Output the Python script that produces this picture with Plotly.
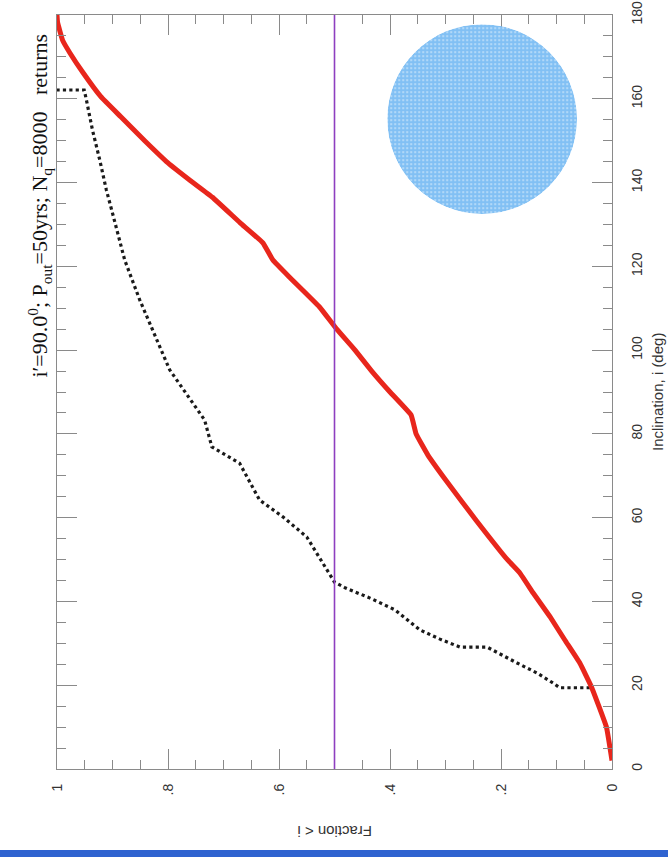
import plotly.graph_objects as go

# ---- data ----
red_incl = [2, 10, 19.6, 25.3, 30.8, 36.4, 42, 46.8, 49.9, 59.4, 68.5, 75, 80, 84.5, 90,
            95, 100, 105, 110.3, 117.4, 121.5, 125.6, 130.4, 136.5, 140.5, 144.7, 150,
            155.7, 160.5, 166.2, 171, 174, 178.3, 180]
red_frac = [0, 0.01, 0.037, 0.058, 0.085, 0.112, 0.142, 0.166, 0.188, 0.245, 0.297, 0.332, 0.353,
            0.362, 0.4, 0.433, 0.463, 0.496, 0.527, 0.581, 0.611, 0.629, 0.67, 0.72, 0.76, 0.80,
            0.842, 0.885, 0.921, 0.953, 0.977, 0.99, 0.999, 1.0]

dot_incl = [19.4, 19.4, 20.5, 22.9, 25.3, 27.9, 29.1, 29.1, 31, 33.2, 38, 40.8, 43.2, 44.6,
            50.6, 55.4, 60.2, 64.2, 73, 76.9, 83.3, 95.3, 112, 121.5, 132.7, 138.2, 145.4,
            152.5, 159.7, 162.1, 162.1]
dot_frac = [0.04, 0.094, 0.106, 0.135, 0.171, 0.207, 0.225, 0.274, 0.31, 0.346, 0.391, 0.436,
            0.48, 0.5, 0.527, 0.55, 0.593, 0.635, 0.671, 0.721, 0.734, 0.797, 0.851, 0.878,
            0.9, 0.911, 0.923, 0.936, 0.947, 0.951, 1.0]

median_frac = 0.5

frac_ticks = [0, 0.2, 0.4, 0.6, 0.8, 1]
frac_ticktext = ["0", ".2", ".4", ".6", ".8", "1"]
incl_ticks = [0, 20, 40, 60, 80, 100, 120, 140, 160, 180]

# inset sky-projection disk
inset_r = [1]
inset_theta = [0]
inset_width = [360]

title_text = "i\u2032=90.0<sup>0</sup>; P<sub>out</sub>=50yrs; N<sub>q</sub>=8000\u2002 returns"

fig = go.Figure()

fig.add_trace(go.Scatter(x=dot_frac, y=dot_incl, mode="lines",
                         line=dict(color="#1a1a1a", width=3.2, dash="dot"),
                         showlegend=False, hoverinfo="skip"))
fig.add_trace(go.Scatter(x=red_frac, y=red_incl, mode="lines",
                         line=dict(color="#e8261c", width=5, shape="spline", smoothing=0.3),
                         showlegend=False, hoverinfo="skip"))

fig.add_trace(go.Barpolar(r=inset_r, theta=inset_theta, width=inset_width,
                          marker=dict(color="#ffffff", line=dict(width=0),
                                      pattern=dict(shape=".", fgcolor="#2f98ee", bgcolor="#d2e8fb",
                                                   size=4, solidity=0.8, fillmode="overlay")),
                          showlegend=False, hoverinfo="skip", subplot="polar"))

fig.add_vline(x=median_frac, line=dict(color="#8e3fc0", width=1.6), layer="above")

tick_col = "#8a8a8a"
axis_font = dict(family="Liberation Sans, Arial, sans-serif", size=14, color="#333333")

fig.update_layout(
    width=668, height=857,
    margin=dict(l=57, r=56, t=15, b=88, autoexpand=False),
    paper_bgcolor="white", plot_bgcolor="white",
    showlegend=False,
    xaxis=dict(range=[1, 0], tickmode="array", tickvals=frac_ticks, ticktext=frac_ticktext,
               tickangle=-90, ticks="inside", ticklen=20, tickwidth=1, tickcolor=tick_col,
               minor=dict(dtick=0.05, ticks="inside", ticklen=9, tickcolor=tick_col, showgrid=False),
               showline=True, linecolor="#8a8a8a", linewidth=1.2, mirror="allticks",
               showgrid=False, zeroline=False, tickfont=axis_font, ticklabelstandoff=8,
               automargin=False),
    yaxis=dict(range=[0, 180], side="right", tickmode="array", tickvals=incl_ticks,
               tickangle=-90, ticks="inside", ticklen=20, tickwidth=1, tickcolor=tick_col,
               minor=dict(dtick=5, ticks="inside", ticklen=9, tickcolor=tick_col, showgrid=False),
               showline=True, linecolor="#8a8a8a", linewidth=1.2, mirror="allticks",
               showgrid=False, zeroline=False, tickfont=axis_font, ticklabelstandoff=12,
               automargin=False),
    polar=dict(domain=dict(x=[0.595, 0.937], y=[0.736, 0.988]),
               bgcolor="rgba(0,0,0,0)",
               radialaxis=dict(visible=False, range=[0, 1]),
               angularaxis=dict(visible=False)),
    annotations=[
        dict(text=title_text, xref="paper", yref="paper", x=-0.031, y=0.747,
             xanchor="center", yanchor="middle", textangle=-90, showarrow=False,
             font=dict(family="Liberation Serif, Times New Roman, serif", size=22, color="#111111")),
        dict(text="Inclination, i (deg)", xref="paper", yref="paper", x=1.0, y=0.5,
             xshift=45, xanchor="center", yanchor="middle", textangle=-90, showarrow=False,
             font=dict(family="Liberation Sans, Arial, sans-serif", size=15, color="#333333")),
        dict(text="Fraction < i", xref="paper", yref="paper", x=0.5, y=0.0,
             yshift=-63, xanchor="center", yanchor="middle", textangle=180, showarrow=False,
             font=dict(family="Liberation Sans, Arial, sans-serif", size=15, color="#333333")),
    ],
    shapes=[
        dict(type="rect", xref="paper", yref="paper", x0=-57/555, x1=-53/555, y0=-88/754, y1=1 + 15/754,
             fillcolor="#1c2f6e", line=dict(width=0), layer="above"),
        dict(type="rect", xref="paper", yref="paper", x0=-57/555, x1=1 + 56/555, y0=-88/754, y1=-81/754,
             fillcolor="#2f63d0", line=dict(width=0), layer="above"),
    ],
)

fig.write_html("out.html", config={"displayModeBar": False},
               post_script="document.body.style.margin='0';document.body.style.overflow='hidden';")
